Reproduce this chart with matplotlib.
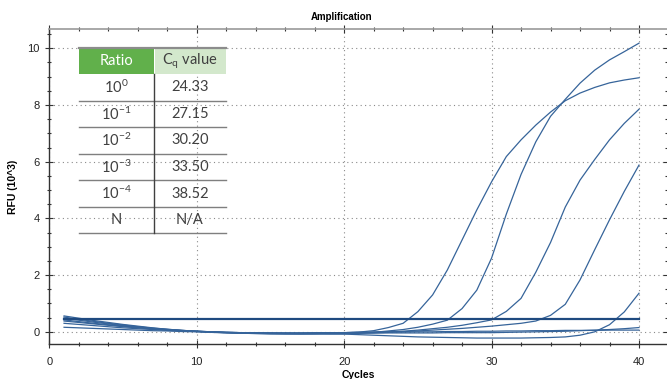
import matplotlib
matplotlib.use('Agg')
import matplotlib.pyplot as plt
from matplotlib.patches import Rectangle
from matplotlib.ticker import MultipleLocator

# amplification data, one value per cycle
cycles = list(range(1, 41))
curve_1e0 = [0.42, 0.36, 0.30, 0.25, 0.20, 0.15, 0.11, 0.07, 0.04, 0.01,
             -0.02, -0.04, -0.05, -0.06, -0.07, -0.07, -0.07, -0.06, -0.05, -0.03,
             -0.01, 0.04, 0.15, 0.30, 0.71, 1.30, 2.18, 3.24, 4.30, 5.29,
             6.18, 6.77, 7.29, 7.75, 8.15, 8.42, 8.62, 8.78, 8.88, 8.96]
curve_1e1 = [0.56, 0.48, 0.40, 0.33, 0.26, 0.20, 0.14, 0.09, 0.05, 0.02,
             -0.01, -0.03, -0.05, -0.06, -0.07, -0.08, -0.08, -0.08, -0.07, -0.07,
             -0.05, -0.02, 0.03, 0.08, 0.16, 0.27, 0.41, 0.82, 1.47, 2.60,
             4.15, 5.55, 6.70, 7.60, 8.20, 8.77, 9.23, 9.59, 9.88, 10.18]
curve_1e2 = [0.48, 0.41, 0.34, 0.28, 0.22, 0.17, 0.12, 0.08, 0.05, 0.02,
             0.00, -0.02, -0.03, -0.04, -0.05, -0.05, -0.05, -0.05, -0.04, -0.03,
             -0.02, -0.01, 0.00, 0.02, 0.06, 0.11, 0.16, 0.23, 0.32, 0.42,
             0.72, 1.18, 2.10, 3.15, 4.40, 5.35, 6.08, 6.77, 7.35, 7.85]
curve_1e3 = [0.38, 0.33, 0.28, 0.23, 0.18, 0.14, 0.10, 0.07, 0.04, 0.02,
             0.00, -0.02, -0.03, -0.04, -0.05, -0.05, -0.05, -0.05, -0.04, -0.04,
             -0.03, -0.02, -0.01, 0.01, 0.03, 0.06, 0.09, 0.12, 0.16, 0.20,
             0.25, 0.30, 0.38, 0.58, 0.97, 1.83, 2.90, 3.95, 4.95, 5.88]
curve_1e4 = [0.30, 0.26, 0.22, 0.18, 0.14, 0.11, 0.08, 0.05, 0.03, 0.01,
             -0.01, -0.03, -0.04, -0.05, -0.06, -0.06, -0.07, -0.07, -0.08, -0.08,
             -0.10, -0.12, -0.14, -0.16, -0.18, -0.19, -0.20, -0.21, -0.22, -0.22,
             -0.22, -0.22, -0.21, -0.20, -0.18, -0.12, 0.00, 0.25, 0.70, 1.36]
curve_neg_a = [0.16, 0.14, 0.12, 0.10, 0.08, 0.06, 0.04, 0.03, 0.01, 0.00,
               -0.01, -0.02, -0.03, -0.04, -0.04, -0.05, -0.05, -0.05, -0.05, -0.05,
               -0.05, -0.05, -0.04, -0.04, -0.04, -0.04, -0.03, -0.03, -0.03, -0.03,
               -0.02, -0.01, 0.00, 0.01, 0.02, 0.04, 0.06, 0.08, 0.11, 0.15]
curve_neg_b = [0.52, 0.44, 0.37, 0.30, 0.24, 0.18, 0.13, 0.09, 0.05, 0.02,
               0.00, -0.02, -0.03, -0.04, -0.04, -0.04, -0.04, -0.03, -0.03, -0.03,
               -0.02, -0.02, -0.01, -0.01, 0.00, 0.00, 0.01, 0.01, 0.02, 0.02,
               0.03, 0.03, 0.04, 0.04, 0.05, 0.05, 0.05, 0.06, 0.06, 0.06]
threshold = 0.45

# table contents
ratios = ['$10^{0}$', '$10^{-1}$', '$10^{-2}$', '$10^{-3}$', '$10^{-4}$', 'N']
cq_values = ['24.33', '27.15', '30.20', '33.50', '38.52', 'N/A']

plt.rcParams['font.family'] = ['Liberation Sans', 'DejaVu Sans']
plt.rcParams['mathtext.fontset'] = 'custom'
plt.rcParams['mathtext.rm'] = 'Lato'
plt.rcParams['mathtext.default'] = 'rm'

line_color = '#36649a'
fig = plt.figure(figsize=(6.67, 3.79), dpi=100)
ax = fig.add_axes([0.0739, 0.0916, 0.9261, 0.8319])

for curve in [curve_1e0, curve_1e1, curve_1e2, curve_1e3, curve_1e4, curve_neg_a, curve_neg_b]:
    ax.plot(cycles, curve, color=line_color, linewidth=0.9)
ax.plot([cycles[0], cycles[-1]], [threshold, threshold], color='#1f4a80', linewidth=1.6)

ax.set_xlim(0, 41.9)
ax.set_ylim(-0.44, 10.68)
ax.xaxis.set_major_locator(MultipleLocator(10))
ax.xaxis.set_minor_locator(MultipleLocator(2))
ax.yaxis.set_major_locator(MultipleLocator(2))
ax.yaxis.set_minor_locator(MultipleLocator(0.5))
ax.grid(True, which='major', linestyle=(0, (1, 3)), color='#8a8a8a', linewidth=0.8)
ax.tick_params(which='major', direction='inout', length=6, width=0.8, color='#333333',
               labelsize=8, labelcolor='#222222', top=True, right=True)
ax.tick_params(which='minor', direction='inout', length=3, width=0.8, color='#333333',
               top=True, right=True)
ax.tick_params(axis='x', pad=6)
ax.tick_params(axis='y', pad=4)
for side in ['left', 'bottom']:
    ax.spines[side].set_color('#333333')
    ax.spines[side].set_linewidth(1.0)
ax.spines['top'].set_color('#9a9a9a')
ax.spines['top'].set_linewidth(1.2)
ax.spines['right'].set_visible(False)

ax.set_xlabel('Cycles', fontsize=7.5, fontweight='bold')
ax.xaxis.set_label_coords(0.5, -0.08)
ax.set_ylabel('RFU (10^3)', fontsize=7.5, fontweight='bold')
ax.yaxis.set_label_coords(-0.05, 0.5)
fig.text(342 / 667, 1 - 17 / 379, 'Amplification', fontsize=7, fontweight='bold',
         ha='center', va='center')

# Cq table drawn in its own inset
tab = fig.add_axes([79 / 667, 1 - 233.3 / 379, 146.7 / 667, 185.6 / 379])
tab.set_xlim(0, 1)
tab.set_ylim(len(ratios) + 1, 0)
tab.axis('off')
split = 0.513
tab.add_patch(Rectangle((0, 0), split - 0.004, 1, facecolor='#61b04b', edgecolor='none'))
tab.add_patch(Rectangle((split + 0.004, 0), 1 - split - 0.004, 1, facecolor='#d3e8cc',
                        edgecolor='none'))
tab.axhline(0, color='#8c8c8c', linewidth=1.6, clip_on=False)
tab.text(split / 2, 0.5, 'Ratio', color='white', fontsize=10.5, family='Lato',
         ha='center', va='center')
tab.text((1 + split) / 2, 0.5, r'C$_{\mathrm{q}}$ value', color='#404040', fontsize=10.5,
         family='Lato', ha='center', va='center')
for i, (r, c) in enumerate(zip(ratios, cq_values)):
    y = i + 1.5
    tab.text(split / 2, y, r, color='#404040', fontsize=10.5, family='Lato',
             ha='center', va='center')
    tab.text((1 + split) / 2, y, c, color='#404040', fontsize=10.5, family='Lato',
             ha='center', va='center')
    tab.axhline(i + 2, color='#7f7f7f', linewidth=1.0, clip_on=False)
tab.plot([split, split], [1, len(ratios) + 1], color='#404040', linewidth=1.0, clip_on=False)

fig.savefig('out.png', dpi=100)
